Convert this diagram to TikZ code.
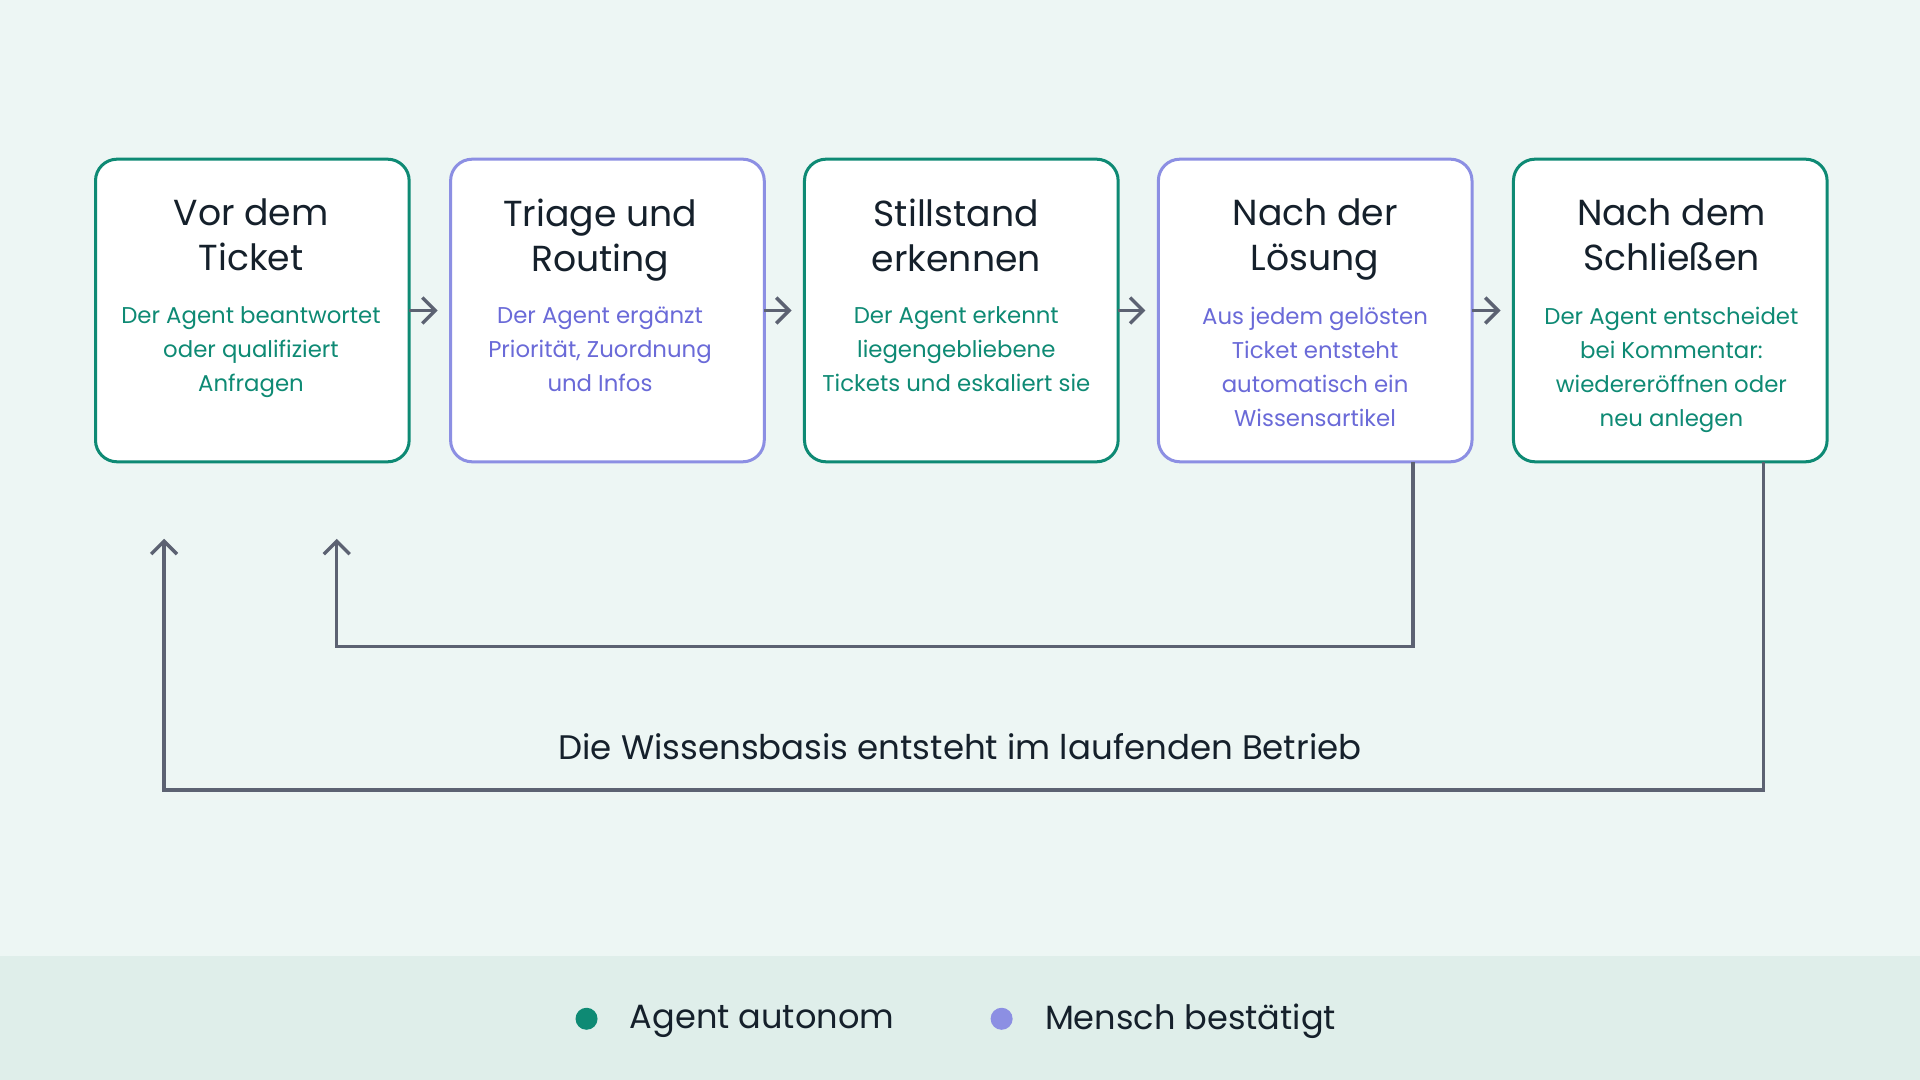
\documentclass[tikz,border=0pt]{standalone}
\usepackage{fontspec}
\setmainfont{Poppins}
\usetikzlibrary{positioning,arrows.meta}
\definecolor{bgc}{HTML}{EDF6F4}
\definecolor{bandc}{HTML}{DFEEEA}
\definecolor{agentc}{HTML}{0E8A74}
\definecolor{humanc}{HTML}{8C8FE3}
\definecolor{humantxt}{HTML}{6A6AD8}
\definecolor{linec}{HTML}{5C6272}
\definecolor{inkc}{HTML}{15202B}
\begin{document}
\begin{tikzpicture}[x=0.01cm,y=-0.01cm,
	step/.style={draw=#1,line width=0.7pt,fill=white,rounded corners=5pt,minimum width=2.56cm,minimum height=2.47cm,anchor=north west,inner sep=0pt,outer sep=0pt},
	head/.style={font=\fontsize{8.4}{10.4}\selectfont,text=inkc,align=center,anchor=north},
	body/.style={font=\fontsize{5.3}{7.9}\selectfont,text=#1,align=center,anchor=north},
	flow/.style={-{Straight Barb[length=3pt,width=6pt]},line width=0.8pt,draw=linec}]
	\fill[bgc] (0,0) rectangle (1568,882);
	\fill[bandc] (0,781) rectangle (1568,882);
	% Schritte
	\node[step=agentc] (s1) at (78,130) {};
	\node[step=humanc] (s2) at (368,130) {};
	\node[step=agentc] (s3) at (657,130) {};
	\node[step=humanc] (s4) at (946,130) {};
	\node[step=agentc] (s5) at (1236,130) {};
	\node[head] at (205,150) {Vor dem\\Ticket};
	\node[head] at (490,150) {Triage und\\Routing};
	\node[head] at (781,150) {Stillstand\\erkennen};
	\node[head] at (1074,150) {Nach der\\Lösung};
	\node[head] at (1365,150) {Nach dem\\Schließen};
	\node[body=agentc] at (205,238) {Der Agent beantwortet\\oder qualifiziert\\Anfragen};
	\node[body=humantxt] at (490,238) {Der Agent ergänzt\\Priorität, Zuordnung\\und Infos};
	\node[body=agentc] at (781,238) {Der Agent erkennt\\liegengebliebene\\Tickets und eskaliert sie};
	\node[body=humantxt] at (1074,238) {Aus jedem gelösten\\Ticket entsteht\\automatisch ein\\Wissensartikel};
	\node[body=agentc] at (1365,238) {Der Agent entscheidet\\bei Kommentar:\\wiedereröffnen oder\\neu anlegen};
	% Pfeile
	\foreach \a/\b in {s1/s2,s2/s3,s3/s4,s4/s5}
		\draw[flow] (\a.east) -- ([xshift=-3pt]\b.west);
	% Rueckfuehrung
	\coordinate (t1) at (134,440);
	\coordinate (t2) at (275,440);
	\draw[flow] (s4.south -| 1154,0) -- (1154,528) -- (275,528) -- (t2);
	\draw[flow] (s5.south -| 1440,0) -- (1440,645) -- (134,645) -- (t1);
	\node[font=\fontsize{7.9}{9}\selectfont,text=inkc] (kb) at (784,610) {Die Wissensbasis entsteht im laufenden Betrieb};
	% Legende
	\fill[agentc] (479,832) circle (9);
	\node[anchor=west,font=\fontsize{7.8}{10}\selectfont,text=inkc] (la) at (502,834) {Agent autonom};
	\fill[humanc] (818,832) circle (9);
	\node[anchor=west,font=\fontsize{7.8}{10}\selectfont,text=inkc] (lm) at (841,834) {Mensch bestätigt};
\end{tikzpicture}
\end{document}
